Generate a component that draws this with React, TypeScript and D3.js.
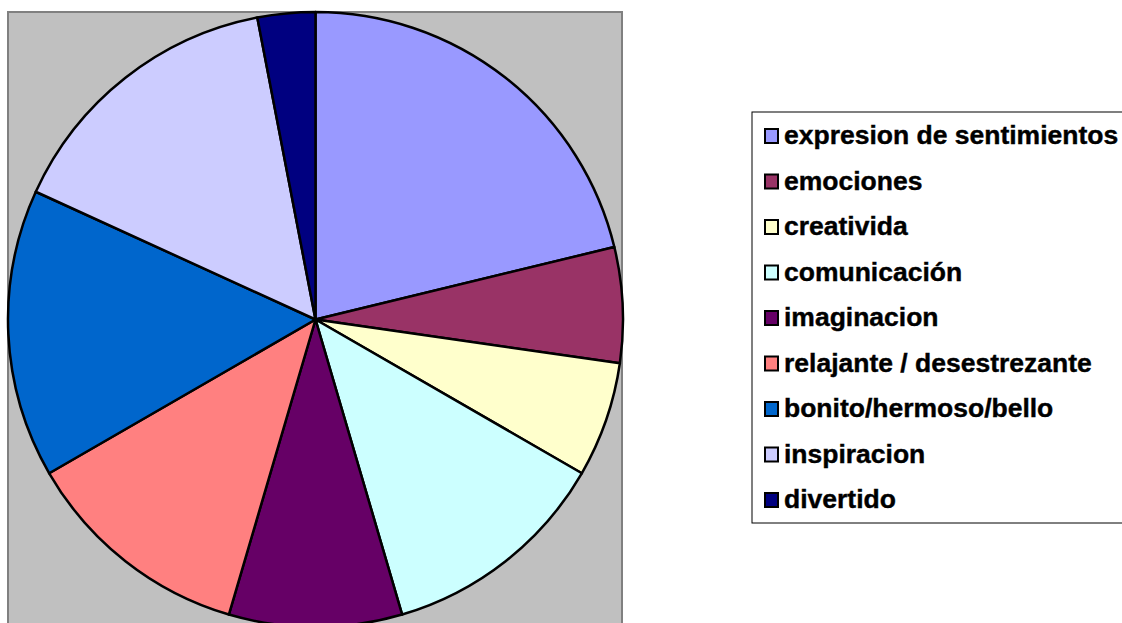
import React from "react"
import * as d3 from "d3"

const categories = [
    "expresion de sentimientos",
    "emociones",
    "creativida",
    "comunicación",
    "imaginacion",
    "relajante / desestrezante",
    "bonito/hermoso/bello",
    "inspiracion",
    "divertido",
]
const values = [7, 2, 2, 4, 3, 4, 5, 5, 1]
const colors = [
    "#9999FF",
    "#993366",
    "#FFFFCC",
    "#CCFFFF",
    "#660066",
    "#FF8080",
    "#0066CC",
    "#CCCCFF",
    "#000080",
]

const WIDTH = 1122
const HEIGHT = 623
const CX = 315.5
const CY = 319.5
const R = 307.5

const App: React.FC = () => {
    const pie = d3
        .pie<number>()
        .sort(null)
        .value(d => d)
    const arc = d3.arc<d3.PieArcDatum<number>>().innerRadius(0).outerRadius(R)
    const arcs = pie(values)

    const legendX = 752
    const legendY = 112
    const rowH = 45.5
    const textX = 784

    return (
        <svg
            width={WIDTH}
            height={HEIGHT}
            style={{ position: "absolute", left: 0, top: 0 }}
            fontFamily="'Liberation Sans', Arial, sans-serif"
        >
            {/* plot area */}
            <rect x={8} y={12} width={614} height={640} fill="#C0C0C0" stroke="#808080" strokeWidth={2} />
            <g transform={`translate(${CX},${CY})`}>
                {arcs.map((a, i) => (
                    <path key={i} d={arc(a) || ""} fill={colors[i]} stroke="#000" strokeWidth={2.5} strokeLinejoin="round" />
                ))}
            </g>

            {/* legend */}
            <rect x={legendX} y={legendY} width={420} height={411} fill="#fff" stroke="#000" strokeWidth={1} />
            {categories.map((c, i) => {
                const base = legendY + 32 + i * rowH
                return (
                    <g key={c}>
                        <rect x={765} y={base - 15} width={13} height={14} fill={colors[i]} stroke="#000" strokeWidth={2} />
                        <text
                            transform={`translate(${textX},${base}) scale(1.06,1)`}
                            fontSize={25}
                            fontWeight="bold"
                            fill="#000"
                            stroke="#000"
                            strokeWidth={0.4}
                        >
                            {c}
                        </text>
                    </g>
                )
            })}
        </svg>
    )
}

export default App
